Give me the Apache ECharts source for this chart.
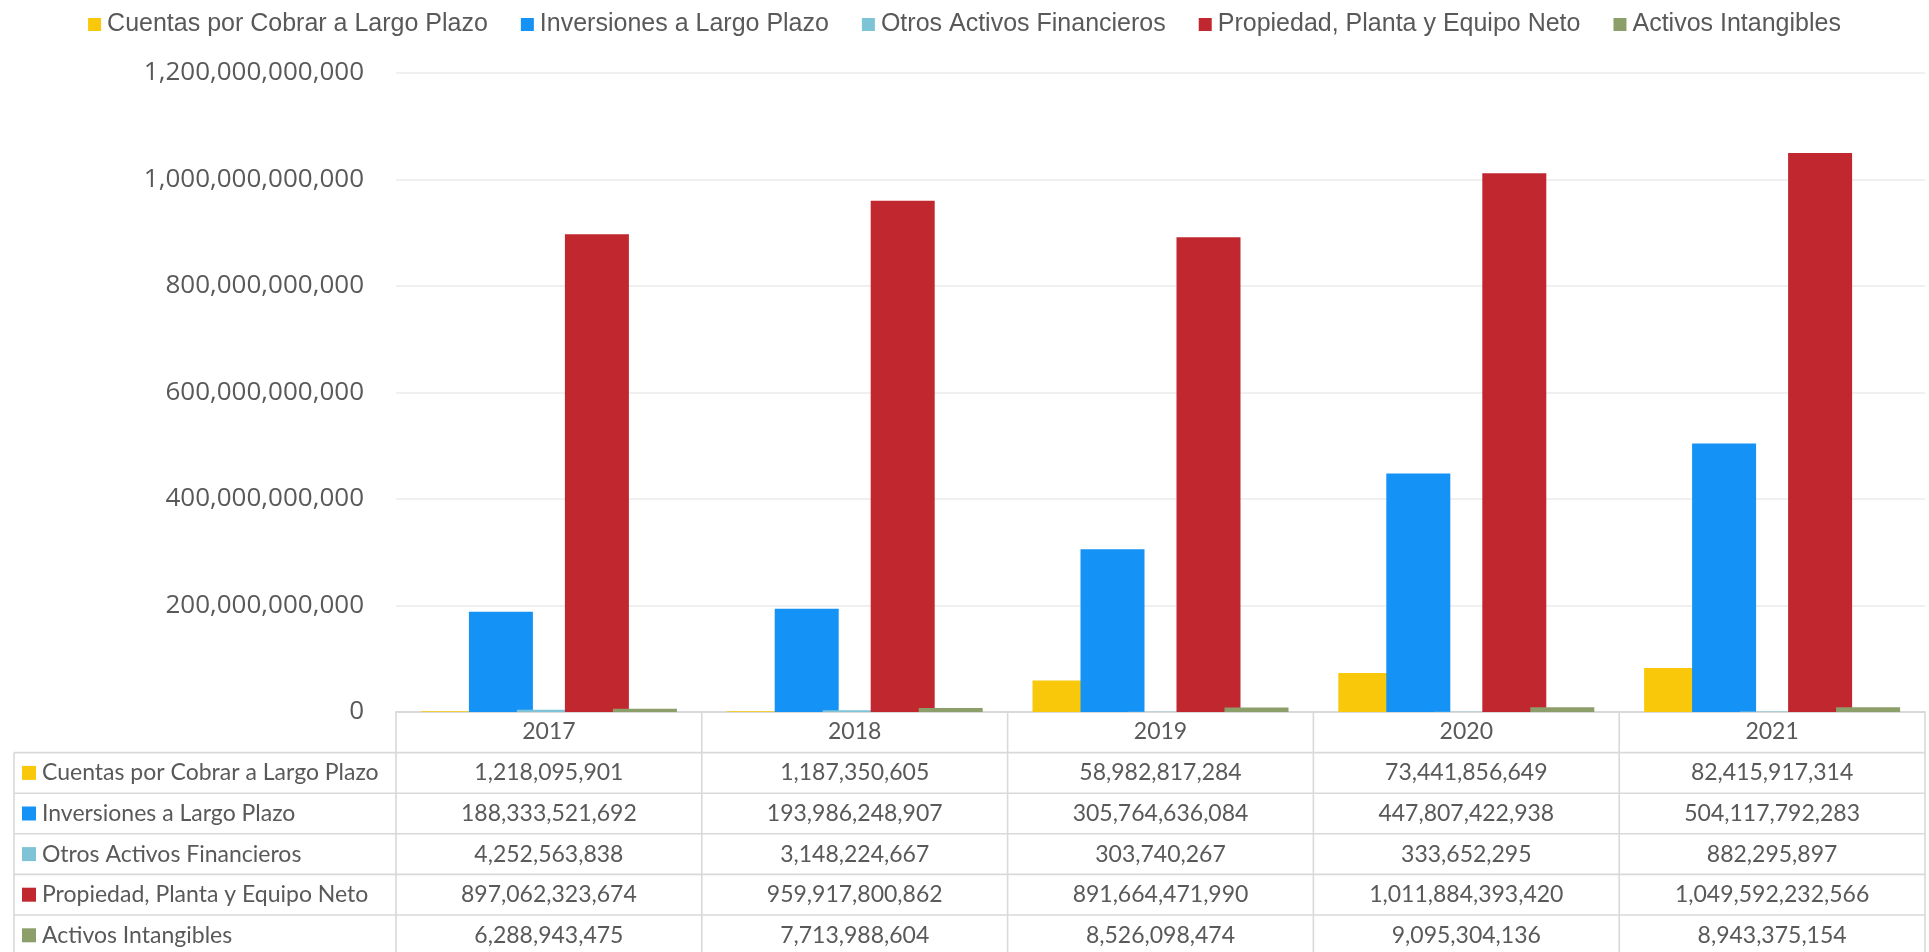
<!DOCTYPE html>
<html>
<head>
<meta charset="utf-8">
<title>Activos no corrientes</title>
<style>
    html, body { margin: 0; padding: 0; background: #fff; }
    #chartsbox { width: 1929px; height: 952px; }
</style>
<script src="https://cdn.jsdelivr.net/npm/echarts@6/dist/echarts.min.js"></script>
</head>
<body>
<div id="chartsbox"></div>
<script>
    // datos
    var aYears = ['2017', '2018', '2019', '2020', '2021'];
    var aNames = ['Cuentas por Cobrar a Largo Plazo', 'Inversiones a Largo Plazo', 'Otros Activos Financieros',
                  'Propiedad, Planta y Equipo Neto', 'Activos Intangibles'];
    var aCuentas = [1218095901, 1187350605, 58982817284, 73441856649, 82415917314];
    var aInversiones = [188333521692, 193986248907, 305764636084, 447807422938, 504117792283];
    var aOtros = [4252563838, 3148224667, 303740267, 333652295, 882295897];
    var aPropiedad = [897062323674, 959917800862, 891664471990, 1011884393420, 1049592232566];
    var aIntangibles = [6288943475, 7713988604, 8526098474, 9095304136, 8943375154];
    var yMax = 1200000000000;
    var yStep = 200000000000;

    var aColors = ['#F9C80B', '#1592F6', '#7FC4D6', '#C1272F', '#8C9E6A'];
    var aSeries = [aCuentas, aInversiones, aOtros, aPropiedad, aIntangibles];
    var textColor = '#595959';
    var lineColor = '#d9d9d9';

    function fmt(v) { return Number(v).toLocaleString('en-US'); }

    var myChart = echarts.init(document.getElementById('chartsbox'));

    var series = [];
    for (var i = 0; i < aNames.length; i++) {
        series.push({
            name: aNames[i],
            type: 'bar',
            data: aSeries[i],
            barWidth: 64,
            barGap: '-25%',
            itemStyle: { color: aColors[i] }
        });
    }

    option = {
        animation: false,
        color: aColors,
        legend: {
            top: 7,
            left: 'center',
            itemWidth: 13,
            itemHeight: 13,
            itemGap: 33,
            icon: 'rect',
            textStyle: { fontFamily: 'Liberation Sans', fontSize: 25, color: textColor, padding: [0, 0, 0, 1] },
            data: aNames
        },
        grid: { left: 396, right: 4, top: 73, bottom: 240 },
        xAxis: {
            type: 'category',
            data: aYears,
            axisTick: { show: false },
            axisLine: { lineStyle: { color: lineColor, width: 2 } },
            axisLabel: { fontFamily: 'Lato', fontSize: 23, color: textColor, margin: 9, lineHeight: 22 }
        },
        yAxis: {
            type: 'value',
            min: 0,
            max: yMax,
            interval: yStep,
            axisLine: { show: false },
            axisTick: { show: false },
            splitLine: { lineStyle: { color: '#f0f0f0', width: 2 } },
            axisLabel: {
                fontFamily: 'Open Sans', fontSize: 26, color: textColor, margin: 32,
                formatter: function (v) { return fmt(v); }
            }
        },
        series: series
    };
    myChart.setOption(option);

    // tabla de datos bajo el eje
    function DrawTable() {
        var axisY = 712;
        var rowH = 40.6;
        var tableLeft = 14;
        var plotRight = 1925;
        var c0 = myChart.convertToPixel({ xAxisIndex: 0 }, 0);
        var c1 = myChart.convertToPixel({ xAxisIndex: 0 }, 1);
        var half = (c1 - c0) / 2;
        var bottom = axisY + rowH * (aNames.length + 1) + 4;
        var els = [];
        var lineStyle = { stroke: lineColor, lineWidth: 1.6 };

        // lineas horizontales
        for (var r = 1; r <= aNames.length; r++) {
            var y = axisY + rowH * r;
            els.push({ type: 'line', shape: { x1: tableLeft, y1: y, x2: plotRight, y2: y }, style: lineStyle, silent: true });
        }
        // lineas verticales
        els.push({ type: 'line', shape: { x1: tableLeft, y1: axisY + rowH, x2: tableLeft, y2: bottom }, style: lineStyle, silent: true });
        for (var k = 0; k <= aYears.length; k++) {
            var x = c0 - half + k * half * 2;
            els.push({ type: 'line', shape: { x1: x, y1: axisY, x2: x, y2: bottom }, style: lineStyle, silent: true });
        }
        // etiquetas y valores
        for (var s = 0; s < aNames.length; s++) {
            var cy = axisY + rowH * (s + 1) + rowH / 2;
            els.push({ type: 'rect', shape: { x: 22, y: cy - 7, width: 14, height: 14 }, style: { fill: aColors[s] }, silent: true });
            els.push({
                type: 'text', x: 42, y: cy, silent: true,
                style: { text: aNames[s], fill: textColor, font: '23px Lato', align: 'left', verticalAlign: 'middle' }
            });
            for (var j = 0; j < aYears.length; j++) {
                var cx = myChart.convertToPixel({ xAxisIndex: 0 }, j);
                els.push({
                    type: 'text', x: cx, y: cy, silent: true,
                    style: { text: fmt(aSeries[s][j]), fill: textColor, font: '23px Lato', align: 'center', verticalAlign: 'middle' }
                });
            }
        }
        myChart.setOption({ graphic: { elements: els } });
    }
    DrawTable();
</script>
</body>
</html>
